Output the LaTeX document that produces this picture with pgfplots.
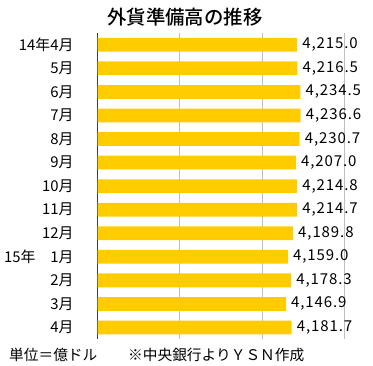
\documentclass[border=0pt]{standalone}
\usepackage{pgfplots}
\pgfplotsset{compat=1.18}
\usepackage{fontspec}
\setmainfont{Noto Sans CJK JP}
\newfontfamily\numfont{Noto Sans CJK JP}[LetterSpace=6]
\newfontfamily\titlefont{Noto Sans CJK JP}[UprightFont=* Medium]
\definecolor{gold}{RGB}{255,204,0}
\definecolor{gridgray}{RGB}{190,190,190}
\definecolor{axgray}{RGB}{60,60,60}
\begin{document}
\begin{tikzpicture}[x=1bp,y=1bp]
\useasboundingbox (0,0) rectangle (373,366);
\begin{axis}[
  at={(97.5bp,26.7bp)}, anchor=south west,
  scale only axis, width=246.5bp, height=306.3bp,
  xbar, bar width=13.8bp,
  xmin=3000, xmax=4500,
  ymin=-0.5, ymax=12.5, y dir=reverse,
  xtick={3500,4000,4500}, xticklabels={},
  xmajorgrids, grid style={gridgray, line width=0.6bp},
  extra x ticks={3000}, extra x tick labels={},
  extra x tick style={grid style={axgray, line width=1bp}},
  axis line style={draw=none},
  major tick style={draw=none},
  ytick={0,...,12},
  yticklabels={14年4月,5月,6月,7月,8月,9月,10月,11月,12月,15年　1月,2月,3月,4月},
  yticklabel style={font=\fontsize{14.9bp}{16bp}\selectfont, anchor=east, inner sep=0pt, xshift=-19.5bp},
  nodes near coords,
  nodes near coords style={font=\numfont\fontsize{15bp}{16bp}\selectfont, anchor=west, inner sep=0pt, xshift=5bp},
  point meta=explicit symbolic,
]
\addplot[fill=gold, draw=none] coordinates {
(4215.0,0) [4,215.0]
(4216.5,1) [4,216.5]
(4234.5,2) [4,234.5]
(4236.6,3) [4,236.6]
(4230.7,4) [4,230.7]
(4207.0,5) [4,207.0]
(4214.8,6) [4,214.8]
(4214.7,7) [4,214.7]
(4189.8,8) [4,189.8]
(4159.0,9) [4,159.0]
(4178.3,10) [4,178.3]
(4146.9,11) [4,146.9]
(4181.7,12) [4,181.7]
};
\end{axis}
\node[font=\titlefont\fontsize{19.4bp}{21bp}\selectfont, inner sep=0pt] at (185,349) {外貨準備高の推移};
\node[font=\fontsize{14.7bp}{16bp}\selectfont, anchor=west, inner sep=0pt] at (9,11) {単位＝億ドル};
\node[font=\fontsize{14.7bp}{16bp}\selectfont, anchor=west, inner sep=0pt] at (128,11) {※中央銀行よりＹＳＮ作成};
\end{tikzpicture}
\end{document}
